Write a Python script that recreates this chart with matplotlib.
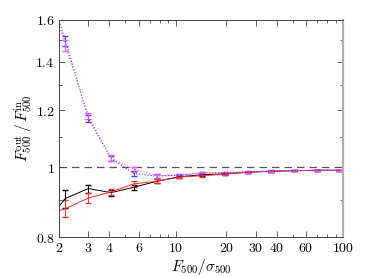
import matplotlib
matplotlib.use('Agg')
import matplotlib.pyplot as plt
from matplotlib.ticker import FixedLocator, FixedFormatter, NullFormatter

plt.rcParams['mathtext.fontset'] = 'cm'
plt.rcParams['font.family'] = 'serif'

# flux ratio bins (first one falls left of the axis)
snr = [1.6, 2.19, 3.0, 4.1, 5.62, 7.7, 10.5, 14.4, 19.7, 27.0, 37.0, 50.7, 69.5, 95.0]

black = [0.83, 0.905, 0.934, 0.922, 0.938, 0.956, 0.970, 0.976, 0.979, 0.984, 0.987, 0.989, 0.990, 0.990]
black_err = [0.03, 0.026, 0.012, 0.009, 0.008, 0.006, 0.004, 0.003, 0.003, 0.002, 0.002, 0.002, 0.002, 0.002]

red = [0.857, 0.876, 0.906, 0.924, 0.948, 0.956, 0.969, 0.973, 0.978, 0.984, 0.987, 0.989, 0.990, 0.990]
red_err = [0.03, 0.024, 0.014, 0.009, 0.008, 0.006, 0.004, 0.003, 0.003, 0.002, 0.002, 0.002, 0.002, 0.002]

blue = [1.87, 1.497, 1.168, 1.028, 0.98, 0.972, 0.975, 0.982, 0.982, 0.985, 0.988, 0.989, 0.990, 0.990]
blue_err = [0.04, 0.025, 0.012, 0.009, 0.009, 0.006, 0.004, 0.003, 0.003, 0.002, 0.002, 0.002, 0.002, 0.002]

magenta = [1.85, 1.475, 1.178, 1.029, 0.994, 0.973, 0.975, 0.981, 0.982, 0.985, 0.988, 0.989, 0.990, 0.990]
magenta_err = [0.04, 0.025, 0.012, 0.009, 0.008, 0.006, 0.004, 0.003, 0.003, 0.002, 0.002, 0.002, 0.002, 0.002]

xticks = [2, 3, 4, 6, 10, 20, 30, 40, 60, 100]
xminor = [5, 7, 8, 9, 50, 70, 80, 90]
yticks = [0.8, 1.0, 1.2, 1.4, 1.6]
ylabels = ['0.8', '1', '1.2', '1.4', '1.6']
yminor = [0.9, 1.1, 1.3, 1.5]

fig = plt.figure(figsize=(3.9, 2.76), dpi=100)
ax = fig.add_axes([0.151, 0.141, 0.729, 0.787])

ax.axhline(1.0, color='#555555', lw=0.9, ls=(0, (6, 4)), zorder=1)

ax.errorbar(snr, black, yerr=black_err, color='black', lw=0.7, capsize=2, elinewidth=0.7)
ax.errorbar(snr, red, yerr=red_err, color='#ff2a2a', lw=0.7, capsize=2, elinewidth=0.7)
ax.errorbar(snr, blue, yerr=blue_err, color='#4040ff', lw=0.8, ls=':', capsize=2, elinewidth=0.7)
ax.errorbar(snr, magenta, yerr=magenta_err, color='#ff50ff', lw=0.8, ls=':', capsize=2, elinewidth=0.7)

ax.set_xscale('log')
ax.set_yscale('log')
ax.set_xlim(2, 100)
ax.set_ylim(0.8, 1.6)

ax.xaxis.set_major_locator(FixedLocator(xticks))
ax.xaxis.set_major_formatter(FixedFormatter(['$%d$' % t for t in xticks]))
ax.xaxis.set_minor_locator(FixedLocator(xminor))
ax.xaxis.set_minor_formatter(NullFormatter())
ax.yaxis.set_major_locator(FixedLocator(yticks))
ax.yaxis.set_major_formatter(FixedFormatter(['$%s$' % t for t in ylabels]))
ax.yaxis.set_minor_locator(FixedLocator(yminor))
ax.yaxis.set_minor_formatter(NullFormatter())

ax.tick_params(which='both', direction='in', top=True, right=True, labelsize=10, color='#444444')
ax.tick_params(which='major', length=4, width=0.6, pad=3)
ax.tick_params(which='minor', length=2.5, width=0.6)
for side in ['left', 'top', 'bottom']:
    ax.spines[side].set_color('#444444')
    ax.spines[side].set_linewidth(0.7)
ax.spines['right'].set_color('#b0b0b0')
ax.spines['right'].set_linewidth(1.6)

ax.set_xlabel(r'$F_{500}/\sigma_{500}$', fontsize=11, labelpad=1)
ax.set_ylabel(r'$F_{500}^{\rm out}\,/\,F_{500}^{\rm in}$', fontsize=11, labelpad=0)

fig.savefig('out.png', dpi=100)
